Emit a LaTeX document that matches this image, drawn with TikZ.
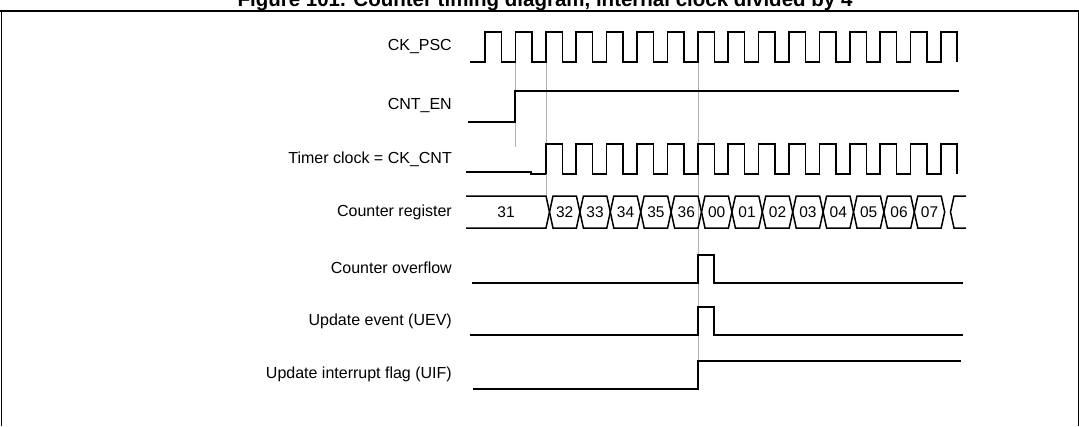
\documentclass[tikz,border=0pt]{standalone}
\usepackage{fontspec}
\setmainfont{Liberation Sans}
\begin{document}
\begin{tikzpicture}[x=1pt,y=-1pt,
  sig/.style={line width=1.5pt,line cap=butt,line join=miter},
  guide/.style={gray!60,line width=0.6pt},
  lbl/.style={anchor=east,font=\fontsize{16}{18}\selectfont,inner sep=0pt},
  val/.style={font=\fontsize{15.5}{17}\selectfont,inner sep=0pt}]
\useasboundingbox (0,0) rectangle (1079,426);
\node[font=\bfseries\fontsize{20.5}{22}\selectfont,anchor=base,inner sep=0pt] (title) at (545,6) {Figure 101. Counter timing diagram, internal clock divided by 4};
\draw[line width=1.6pt] (0,11) -- (1079,11);
\draw[line width=1pt] (1,11) -- (1,426) (1078,11) -- (1078,426);
% guides
\draw[guide] (515,62) -- (515,147);
\draw[guide] (546,62) -- (546,197);
\draw[guide] (698,62) -- (698,389);
% labels
\node[lbl] (l1) at (452,47) {CK\_PSC};
\node[lbl] (l2) at (452,106) {CNT\_EN};
\node[lbl] (l3) at (452,159) {Timer clock = CK\_CNT};
\node[lbl] (l4) at (452,212) {Counter register};
\node[lbl] (l5) at (452,268) {Counter overflow};
\node[lbl] (l6) at (452,321) {Update event (UEV)};
\node[lbl] (l7) at (452,374) {Update interrupt flag (UIF)};
% CK_PSC
\draw[sig] (470,62) \foreach \k in {0,...,14} { -- ({485+30.4*\k},62) -- ({485+30.4*\k},32) -- ({501.5+30.4*\k},32) -- ({501.5+30.4*\k},62) } -- (941,62) -- (941,32) -- (957,32) -- (957,62);
% CNT_EN
\draw[sig] (468,122) -- (515,122) -- (515,91) -- (959,91);
% CK_CNT
\draw[sig] (466,172) -- (531,172) -- (531,174) -- (546,174) \foreach \k in {2,...,14} { -- ({485+30.4*\k},174) -- ({485+30.4*\k},144) -- ({501.5+30.4*\k},144) -- ({501.5+30.4*\k},174) } -- (941,174) -- (941,144) -- (957,144) -- (957,174);
% Counter register
\draw[sig] (466,196) -- (546,196) -- (549.5,212) -- (546,228) -- (466,228);
\node[val] (v31) at (506,212) {31};
\foreach \k/\v in {0/32,1/33,2/34,3/35,4/36,5/00,6/01,7/02,8/03,9/04,10/05,11/06,12/07} {
  \draw[sig] ({549.5+30.4*\k},212) -- ({553+30.4*\k},196) -- ({576.4+30.4*\k},196) -- ({579.9+30.4*\k},212) -- ({576.4+30.4*\k},228) -- ({553+30.4*\k},228) -- cycle;
  \node[val] (c\k) at ({564.7+30.4*\k},212) {\v};
}
\draw[sig] (966,196) -- (954,196) -- (950.5,212) -- (954,228) -- (966,228);
% Counter overflow
\draw[sig] (472,283) -- (698,283) -- (698,255) -- (714,255) -- (714,283) -- (963,283);
% UEV
\draw[sig] (470,335) -- (698,335) -- (698,307) -- (714,307) -- (714,335) -- (963,335);
% UIF
\draw[sig] (473,389) -- (698,389) -- (698,361) -- (961,361);
\end{tikzpicture}
\end{document}
